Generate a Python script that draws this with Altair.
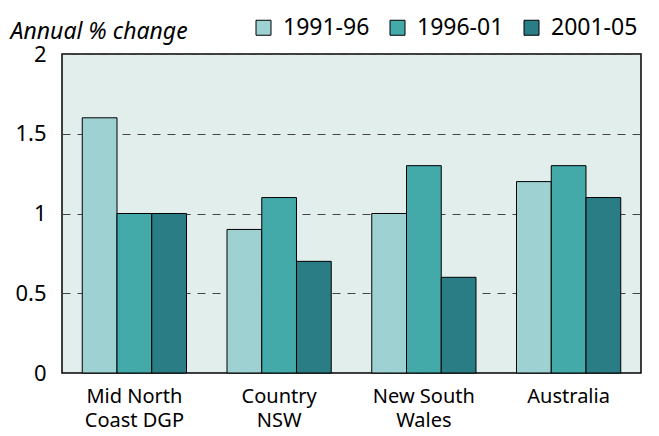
import altair as alt
import pandas as pd

regions = ["Mid North|Coast DGP", "Country|NSW", "New South|Wales", "Australia"]
periods = ["1991-96", "1996-01", "2001-05"]
v_9196 = [1.6, 0.9, 1.0, 1.2]
v_9601 = [1.0, 1.1, 1.3, 1.3]
v_0105 = [1.0, 0.7, 0.6, 1.1]
colors = ["#9ed1d1", "#43a9a9", "#2a7d85"]

rows = []
for i, r in enumerate(regions):
    for p, vals in zip(periods, [v_9196, v_9601, v_0105]):
        rows.append({"region": r, "period": p, "value": vals[i]})
df = pd.DataFrame(rows)

FONT = "Noto Sans"

chart = alt.Chart(df).mark_bar(stroke="black", strokeWidth=1).encode(
    x=alt.X("region:N", sort=regions,
            scale=alt.Scale(paddingInner=0.28, paddingOuter=0.14),
            axis=alt.Axis(title=None, labelAngle=0, ticks=False, domain=False,
                          labelExpr="split(datum.label, '|')",
                          labelFontSize=20, labelLineHeight=24,
                          labelPadding=13, labelColor="black", labelFont=FONT)),
    xOffset=alt.XOffset("period:N", sort=periods),
    y=alt.Y("value:Q",
            scale=alt.Scale(domain=[0, 2], nice=False),
            axis=alt.Axis(values=[0, 0.5, 1, 1.5, 2], format="~g",
                          title="Annual % change", titleAngle=0, titleAlign="left",
                          titleBaseline="alphabetic", titleX=-52, titleY=-16,
                          titleFontStyle="italic", titleFontWeight="normal",
                          titleFontSize=23, titleFont=FONT, titleColor="black",
                          labelFontSize=22, labelFont=FONT, labelColor="black",
                          labelPadding=16, ticks=False, domain=False,
                          grid=True, gridDash=[8, 7], gridColor="#444",
                          gridWidth=1)),
    color=alt.Color("period:N", sort=periods,
                    scale=alt.Scale(domain=periods, range=colors),
                    legend=alt.Legend(title=None, orient="none", direction="horizontal",
                                      legendX=190, legendY=-38,
                                      symbolType="square", symbolSize=225,
                                      symbolStrokeColor="black", symbolStrokeWidth=1,
                                      labelFontSize=23, labelFont=FONT, labelColor="black",
                                      labelOffset=8, columnPadding=16)),
).properties(
    width=579, height=319,
    autosize=alt.AutoSizeParams(type="none"),
    padding={"left": 54, "top": 46, "right": 10, "bottom": 62},
).configure_view(
    fill="#e2eeec", stroke="black", strokeWidth=1.5
).configure_axis(
    gridOpacity=1
)

chart.save("out.html", embed_options={"renderer": "svg", "actions": False})
